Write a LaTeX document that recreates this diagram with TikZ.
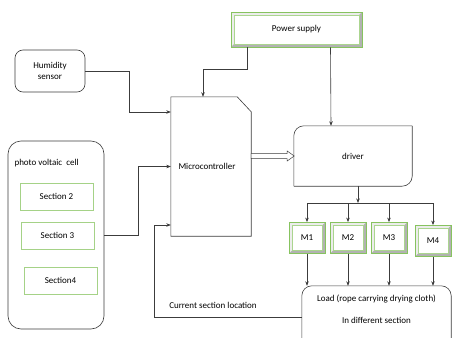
\documentclass[tikz,border=0pt]{standalone}
\usepackage{fontspec}
\setmainfont{Carlito}
\usetikzlibrary{arrows.meta,calc}
\definecolor{boxgreen}{RGB}{135,195,95}
\definecolor{secgreen}{RGB}{165,210,135}
\definecolor{linegray}{RGB}{60,60,60}
\begin{document}
\begin{tikzpicture}[
        x=1pt, y=-1pt,
        font=\fontsize{9}{11}\selectfont,
        size/.style 2 args={minimum width=#1pt, minimum height=#2pt, inner sep=0pt},
        roundbox/.style={draw=linegray, line width=0.6pt, rounded corners=8pt, align=center},
        section/.style={draw=secgreen, line width=0.8pt},
        bevel/.style={
            draw=boxgreen,
            line width=0.8pt,
            fill=gray!15,
            path picture={
                \fill[gray!60] (path picture bounding box.south west)
                    -- ([shift={(3pt,3pt)}]path picture bounding box.south west)
                    -- ([shift={(-3pt,3pt)}]path picture bounding box.south east)
                    -- ([shift={(-3pt,-3pt)}]path picture bounding box.north east)
                    -- (path picture bounding box.north east)
                    -- (path picture bounding box.south east) -- cycle;
                \draw[fill=white, draw=boxgreen!70, line width=0.5pt]
                    ([shift={(3pt,-3pt)}]path picture bounding box.north west)
                    rectangle ([shift={(-3pt,3pt)}]path picture bounding box.south east);
            }
        },
        wire/.style={linegray, line width=0.6pt},
        arrow/.style={wire, -{Stealth[length=4.5pt,width=3.5pt]}}
    ]

    \useasboundingbox (0,0) rectangle (452,337);

    % boxes
    \node[roundbox, size={70}{42}] (hum) at (50,71) {Humidity\\sensor};
    \node[bevel, size={131}{35}] (pw) at (296.5,29.5) {Power supply};
    \node[size={80}{139}] (mc) at (211,166.5) {\hspace{-8pt}Microcontroller};
    \node[size={118}{60}] (drv) at (353,156) {driver};
    \node[roundbox, size={96}{188}, rounded corners=13pt] (pv) at (56,235) {};
    \node[anchor=west] (pvlabel) at (11,163) {photo voltaic\ \ cell};
    \node[section, size={73}{27}] (s2) at (56.5,196.5) {Section 2};
    \node[section, size={73}{27}] (s3) at (57.5,235.5) {Section 3};
    \node[section, size={73}{27}] (s4) at (60.5,280.5) {Section4};
    \node[bevel, size={36}{31}] (m1) at (307,238) {M1};
    \node[bevel, size={36}{31}] (m2) at (348,238) {M2};
    \node[bevel, size={36}{31}] (m3) at (389,238) {M3};
    \node[bevel, size={36}{31}] (m4) at (433,241) {M4};
    \node[size={149}{46}, align=center] (load) at (376.5,309)
        {Load (rope carrying drying cloth)\\[11pt]In different section};
    \node (curloc) at (213,305) {Current section location};

    % outlines of the odd shapes
    \draw[wire] (mc.south west) -- (mc.north west) -- ([xshift=-14pt]mc.north east)
        -- ([yshift=-15pt]mc.north east) -- (mc.south east) -- cycle;
    \draw[wire, rounded corners=10pt] (drv.south west) |- (drv.north east);
    \draw[wire, rounded corners=10pt] (drv.north east) |- (drv.south west);
    \draw[wire, rounded corners=10pt] ([yshift=-15pt]load.south west) -- (load.north west)
        -- (load.north east) -- ([yshift=-15pt]load.south east);

    % connections
    \draw[arrow] (hum.east) -- ++(44,0) |- ([yshift=54.5pt]mc.west);
    \draw[arrow] (pv.east) -- ++(34,0) |- (mc.west);
    \draw[arrow] ([yshift=-8pt]load.west) -- ++(-148,0) |- ([yshift=-58.5pt]mc.west);
    \draw[arrow] ([xshift=-49.5pt]pw.south) -- ++(0,22) -| ([xshift=-8pt]mc.north);
    \draw[arrow] ([xshift=34pt]pw.south) -- ([xshift=-22pt]drv.north);
    \draw[wire, fill=white, line width=0.5pt] (mc.east |- drv.west) ++(0,-2.5) -- ++(36,0)
        -- ++(0,-2.5) -- ++(7,5) -- ++(-7,5) -- ++(0,-2.5) -- ++(-36,0) -- cycle;

    \coordinate (bus) at (358,203);
    \draw[arrow] ([xshift=5pt]drv.south) -- (bus);
    \draw[wire] (m1.north |- bus) -- (m4.north |- bus);
    \foreach \m in {m1,m2,m3,m4} {
        \draw[arrow] (\m.north |- bus) -- (\m.north);
        \draw[arrow] (\m.south) -- (\m.south |- load.north);
    }

\end{tikzpicture}
\end{document}
